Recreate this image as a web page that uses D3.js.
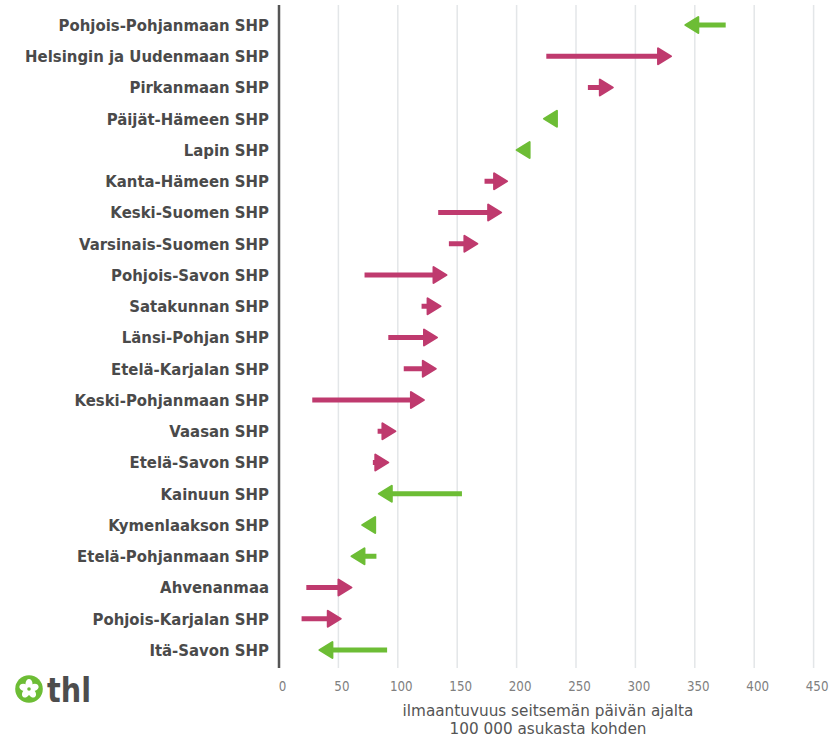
<!DOCTYPE html>
<html><head><meta charset="utf-8">
<script src="https://cdn.jsdelivr.net/npm/d3@7"></script>
<style>body{margin:0;background:#fff}svg{display:block}</style>
</head><body>
<svg id="c" width="838" height="739"></svg>
<script>
const regions = ["Pohjois-Pohjanmaan SHP","Helsingin ja Uudenmaan SHP","Pirkanmaan SHP","Päijät-Hämeen SHP","Lapin SHP","Kanta-Hämeen SHP","Keski-Suomen SHP","Varsinais-Suomen SHP","Pohjois-Savon SHP","Satakunnan SHP","Länsi-Pohjan SHP","Etelä-Karjalan SHP","Keski-Pohjanmaan SHP","Vaasan SHP","Etelä-Savon SHP","Kainuun SHP","Kymenlaakson SHP","Etelä-Pohjanmaan SHP","Ahvenanmaa","Pohjois-Karjalan SHP","Itä-Savon SHP"];
const previous = [376,225,260,233,210,173,134,143,72,120,92,105,28,83,79,154,81,82,23,19,91];
const current  = [342,330,281,223,200,192,187,167,141,136,133,132,122,98,92,84,70,61,61,52,34];
const ticks = [0,50,100,150,200,250,300,350,400,450];
const axisTitle = ["ilmaantuvuus seitsemän päivän ajalta","100 000 asukasta kohden"];

const svg = d3.select("#c");
const x = d3.scaleLinear().domain([0,450]).range([279,813.6]);
const y = d3.scalePoint().domain(regions).range([25,650]);
const up = "#bf3a6e", down = "#6dbd35";

// grid
svg.append("g").selectAll("line").data(ticks.slice(1)).join("line")
  .attr("x1",d=>x(d)).attr("x2",d=>x(d)).attr("y1",5).attr("y2",668)
  .attr("stroke","#e3e6e8").attr("stroke-width",1.5);

// axis line
svg.append("line").attr("x1",x(0)).attr("x2",x(0)).attr("y1",5).attr("y2",668)
  .attr("stroke","#555").attr("stroke-width",2.5);

// x axis via d3
const xAxis = d3.axisBottom(x).tickValues(ticks).tickSize(0).tickPadding(0).tickFormat(d3.format("d"));
const ga = svg.append("g").attr("transform","translate(3,681)").call(xAxis);
ga.select(".domain").remove();
ga.selectAll(".tick text").attr("font-family","DejaVu Sans").attr("font-size",14.5).attr("fill","#808080")
  .attr("dy","0.7em").attr("transform","scale(0.82,1)");

// arrows
const data = regions.map((r,i)=>({r,p:previous[i],c:current[i]}));
const HL = 13, HW = 8;
const g = svg.append("g");
data.forEach(d=>{
  const dir = d.c>=d.p?1:-1;
  const col = dir>0?up:down;
  const yy = y(d.r);
  const xt = x(d.c), xs = x(d.p);
  const xb = xt - dir*HL;
  if ((xb - xs)*dir > 0) {
    g.append("line").attr("x1",xs).attr("x2",xb+dir*2).attr("y1",yy).attr("y2",yy)
      .attr("stroke",col).attr("stroke-width",5).attr("stroke-linecap","butt");
  }
  g.append("path").attr("d",`M${xt},${yy} L${xb},${yy-HW} L${xb},${yy+HW} Z`)
    .attr("fill",col).attr("stroke",col).attr("stroke-width",2).attr("stroke-linejoin","round");
});

// labels
const lg = svg.append("g");
const labs = lg.selectAll("text").data(regions).join("text")
  .attr("font-family","DejaVu Sans").attr("font-weight","bold").attr("font-size",16.5)
  .attr("fill","#4a4a4a").attr("text-anchor","end").attr("dy","0.36em").text(d=>d);
const ref = labs.filter(d=>d==="Helsingin ja Uudenmaan SHP").node().getComputedTextLength();
const sx = 244/ref;
labs.attr("transform",d=>`translate(269,${y(d)}) scale(${sx},1)`);

// axis title
const tt = svg.append("g").selectAll("text").data(axisTitle).join("text")
  .attr("font-family","DejaVu Sans").attr("font-size",15.5).attr("fill","#555")
  .attr("text-anchor","middle").text(d=>d);
const tref = tt.filter((d,i)=>i===0).node().getComputedTextLength();
const tsx = 291/tref;
tt.attr("transform",(d,i)=>`translate(548,${716+i*18}) scale(${tsx},1)`);

// thl logo
const logo = svg.append("g").attr("transform","translate(29,689)");
logo.append("circle").attr("r",13.8).attr("fill","#6dbd35");
for(let k=0;k<5;k++){
  logo.append("ellipse").attr("cx",0).attr("cy",-5.3).attr("rx",3.5).attr("ry",4.7)
    .attr("fill","#fff").attr("transform",`rotate(${k*72})`);
}
logo.append("circle").attr("r",1.8).attr("fill","#6dbd35");
const thl = svg.append("text").attr("font-family","DejaVu Sans").attr("font-weight","bold")
  .attr("font-size",33).attr("fill","#4d4d4d").text("thl");
const lw = thl.node().getComputedTextLength();
thl.attr("transform",`translate(47,702) scale(${44/lw},1)`);
</script>
</body></html>
